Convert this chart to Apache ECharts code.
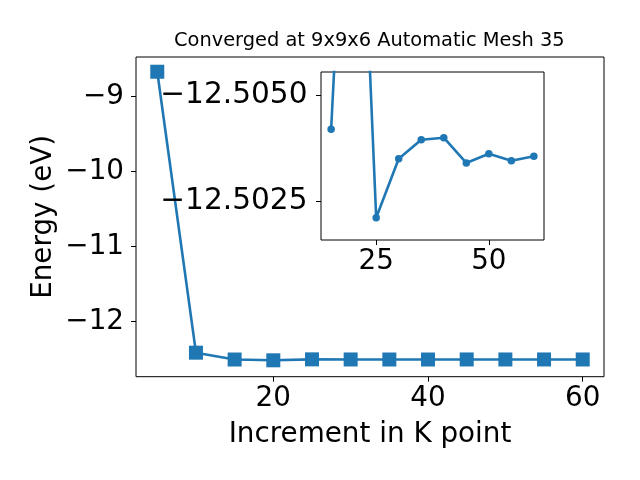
<!DOCTYPE html>
<html>
<head>
<meta charset="utf-8">
<script src="https://cdn.jsdelivr.net/npm/echarts@6/dist/echarts.min.js"></script>
<style>html,body{margin:0;padding:0;background:#fff}#c{width:640px;height:480px}</style>
</head>
<body>
<div id="c"></div>
<script>
// Data
const kpoints = [5, 10, 15, 20, 25, 30, 35, 40, 45, 50, 55, 60];
const energies = [-8.667, -12.413, -12.5042, -12.5147, -12.5021, -12.5035, -12.50395, -12.5040, -12.5034, -12.50362, -12.50345, -12.50356];
const insetStart = 2; // the zoomed inset plots from the third point on
const mainXTicks = [20, 40, 60];
const mainYTicks = [-9, -10, -11, -12];
const insetXTicks = [25, 50];
const insetYTicks = [-12.5050, -12.5025];
const titleText = 'Converged at 9x9x6 Automatic Mesh 35';

const pairs = kpoints.map((k, i) => [k, energies[i]]);
const insetPairs = pairs.slice(insetStart);
const FONT = 'DejaVu Sans';
const minus = s => String(s).replace('-', '\u2212');
const C = '#1f77b4';

const chart = echarts.init(document.getElementById('c'), null, {renderer: 'canvas'});
chart.setOption({
  animation: false,
  backgroundColor: '#fff',
  graphic: [{
    type: 'text', left: 370 - 196, top: 31,
    style: {text: titleText, font: '19.4px "DejaVu Sans"', fill: '#000'}
  }],
  grid: [
    {left: 136, top: 57, width: 468, height: 319.7, show: true, borderColor: '#000', borderWidth: 1, backgroundColor: 'transparent'},
    {left: 321, top: 72, width: 223, height: 168, show: true, borderColor: '#000', borderWidth: 1, backgroundColor: '#fff', z: 5}
  ],
  xAxis: [
    {
      type: 'value', gridIndex: 0, min: 2.25, max: 62.75,
      name: 'Increment in K point', nameLocation: 'middle', nameGap: 44, nameMoveOverlap: false,
      nameTextStyle: {fontFamily: FONT, fontSize: 27.8, color: '#000'},
      axisLine: {show: false}, splitLine: {show: false},
      axisTick: {show: true, length: 5, lineStyle: {color: '#000', width: 1}, customValues: mainXTicks},
      axisLabel: {fontFamily: FONT, fontSize: 27.8, color: '#000', margin: 8, customValues: mainXTicks, formatter: v => minus(v)}
    },
    {
      type: 'value', gridIndex: 1, min: 12.75, max: 62.25, z: 6,
      axisLine: {show: false}, splitLine: {show: false},
      axisTick: {show: true, length: 5, lineStyle: {color: '#000', width: 1}, customValues: insetXTicks},
      axisLabel: {fontFamily: FONT, fontSize: 27.8, color: '#000', margin: 8, customValues: insetXTicks, formatter: v => minus(v)}
    }
  ],
  yAxis: [
    {
      type: 'value', gridIndex: 0, min: -12.7333, max: -8.4707,
      name: 'Energy (eV)', nameLocation: 'middle', nameGap: 78, nameRotate: 90, nameMoveOverlap: false,
      nameTextStyle: {fontFamily: FONT, fontSize: 27.8, color: '#000'},
      axisLine: {show: false}, splitLine: {show: false},
      axisTick: {show: true, length: 5, lineStyle: {color: '#000', width: 1}, customValues: mainYTicks},
      axisLabel: {fontFamily: FONT, fontSize: 27.8, color: '#000', margin: 12, customValues: mainYTicks, formatter: v => minus(v)}
    },
    {
      type: 'value', gridIndex: 1, min: -12.50556, max: -12.50157, inverse: true, z: 6,
      axisLine: {show: false}, splitLine: {show: false},
      axisTick: {show: true, length: 5, lineStyle: {color: '#000', width: 1}, customValues: insetYTicks},
      axisLabel: {fontFamily: FONT, fontSize: 29.6, color: '#000', margin: 13.5, customValues: insetYTicks, formatter: v => minus(Number(v).toFixed(4))}
    }
  ],
  series: [
    {
      type: 'line', xAxisIndex: 0, yAxisIndex: 0, data: pairs,
      symbol: 'rect', symbolSize: 14, color: C,
      lineStyle: {color: C, width: 2.6}, itemStyle: {color: C},
      clip: true, z: 3
    },
    {
      type: 'line', xAxisIndex: 1, yAxisIndex: 1, data: insetPairs,
      symbol: 'circle', symbolSize: 7.5, color: C,
      lineStyle: {color: C, width: 2.6}, itemStyle: {color: C},
      clip: true, z: 7
    }
  ]
});
</script>
</body>
</html>
